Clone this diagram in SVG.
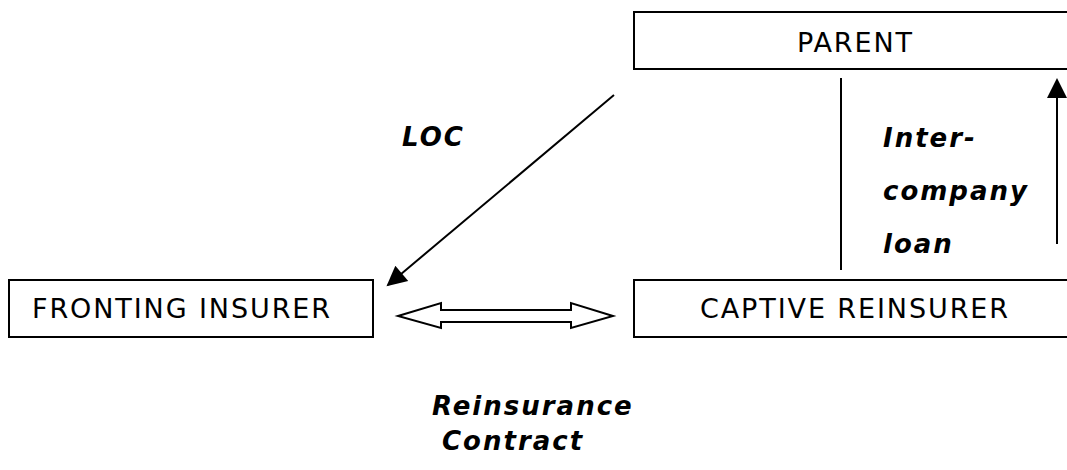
<svg xmlns="http://www.w3.org/2000/svg" width="1067" height="470" viewBox="0 0 1067 470">
<style>
.box{fill:#fff;stroke:#000;stroke-width:2}
.lbl{font-family:"DejaVu Sans",Verdana,sans-serif;font-size:27px;letter-spacing:1.9px;fill:#000}
.it{font-family:"DejaVu Sans",Verdana,sans-serif;font-size:26px;font-weight:bold;font-style:italic;letter-spacing:2px;fill:#000}
.ln{stroke:#000;stroke-width:2;fill:none}
</style>
<defs>
<marker id="ah" viewBox="0 0 10 10" refX="9" refY="5" markerWidth="10" markerHeight="10" markerUnits="userSpaceOnUse" orient="auto">
<path d="M0,0 L10,5 L0,10 z" fill="#000"/>
</marker>
<marker id="ahb" viewBox="0 0 10 10" refX="9" refY="5" markerWidth="22" markerHeight="20" markerUnits="userSpaceOnUse" orient="auto">
<path d="M0,0 L10,5 L0,10 z" fill="#000"/>
</marker>
</defs>
<g id="parent">
<rect class="box" x="634" y="12" width="450" height="57"/>
<text class="lbl" x="797" y="52">PARENT</text>
</g>
<g id="fronting">
<rect class="box" x="9" y="280" width="364" height="57"/>
<text class="lbl" x="32" y="318">FRONTING INSURER</text>
</g>
<g id="captive">
<rect class="box" x="634" y="280" width="450" height="57"/>
<text class="lbl" x="700" y="318">CAPTIVE REINSURER</text>
</g>
<g id="connectors">
<line class="ln" x1="614" y1="95" x2="388" y2="285" marker-end="url(#ahb)"/>
<line class="ln" x1="841" y1="78" x2="841" y2="270"/>
<line class="ln" x1="1057" y1="244" x2="1057" y2="80" marker-end="url(#ahb)"/>
<polygon points="398,316 441,303 441,310 571,310 571,303 613,316 571,328 571,322 441,322 441,328" fill="#fff" stroke="#000" stroke-width="2"/>
</g>
<g id="labels">
<text class="it" x="402" y="146">LOC</text>
<text class="it" x="883" y="147">Inter-</text>
<text class="it" x="883" y="200">company</text>
<text class="it" x="883" y="253">loan</text>
<text class="it" x="432" y="415">Reinsurance</text>
<text class="it" x="442" y="450">Contract</text>
</g>
</svg>
